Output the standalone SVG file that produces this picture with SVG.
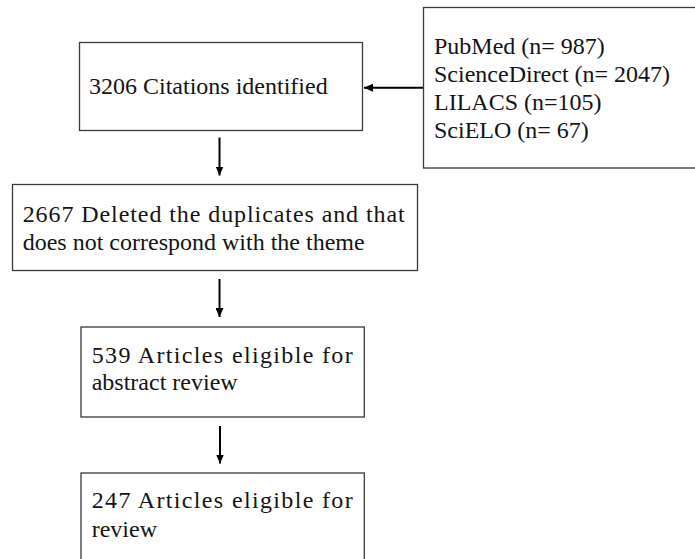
<svg xmlns="http://www.w3.org/2000/svg" width="695" height="559" viewBox="0 0 695 559">
<style>
.box{fill:#ffffff;stroke:#3a3a3a;stroke-width:1.3}
.t{font-family:"Liberation Serif","Times New Roman",serif;font-size:24px;fill:#141414}
.c{stroke:#000;stroke-width:2;fill:none}
</style>
<defs>
<marker id="ah" markerUnits="userSpaceOnUse" markerWidth="10" markerHeight="8" refX="9" refY="4" orient="auto">
<path d="M0,0 L9,4 L0,8 Z" fill="#000"/>
</marker>
</defs>
<rect width="695" height="559" fill="#ffffff"/>
<g id="sources">
<rect class="box" x="423.5" y="7.5" width="275" height="160.5"/>
<text class="t" x="434" y="53.5">PubMed (n= 987)</text>
<text class="t" x="434" y="81.5">ScienceDirect (n= 2047)</text>
<text class="t" x="434" y="109.5">LILACS (n=105)</text>
<text class="t" x="434" y="137.5">SciELO (n= 67)</text>
</g>
<g id="identified">
<rect class="box" x="79.5" y="42.5" width="283" height="88"/>
<text class="t" x="89" y="94">3206 Citations identified</text>
</g>
<g id="deleted">
<rect class="box" x="12.5" y="184.5" width="405" height="86"/>
<text class="t" x="22.7" y="221.5" textLength="382" lengthAdjust="spacing">2667 Deleted the duplicates and that</text>
<text class="t" x="22.7" y="250">does not correspond with the theme</text>
</g>
<g id="abstract">
<rect class="box" x="81" y="327" width="283.3" height="90"/>
<text class="t" x="91.7" y="362.5" textLength="261" lengthAdjust="spacing">539 Articles eligible for</text>
<text class="t" x="91.7" y="390">abstract review</text>
</g>
<g id="review">
<rect class="box" x="81" y="473" width="283.3" height="92"/>
<text class="t" x="91.7" y="508" textLength="261" lengthAdjust="spacing">247 Articles eligible for</text>
<text class="t" x="91.7" y="536.5">review</text>
</g>
<g id="connectors">
<line class="c" x1="423" y1="87.7" x2="364" y2="87.7" marker-end="url(#ah)"/>
<line class="c" x1="219.5" y1="137.5" x2="219.5" y2="175.5" marker-end="url(#ah)"/>
<line class="c" x1="219.5" y1="279" x2="219.5" y2="317" marker-end="url(#ah)"/>
<line class="c" x1="220" y1="426" x2="220" y2="463.5" marker-end="url(#ah)"/>
</g>
</svg>
